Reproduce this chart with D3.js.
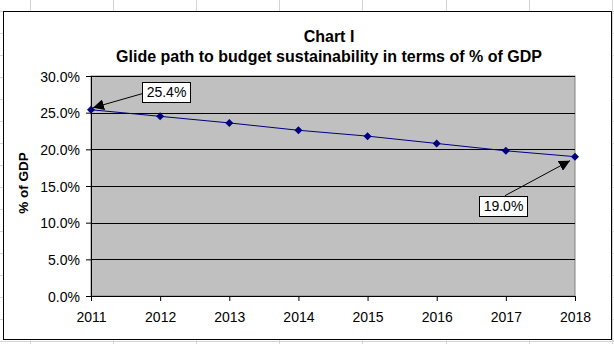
<!DOCTYPE html>
<html>
<head>
<meta charset="utf-8">
<script src="https://cdn.jsdelivr.net/npm/d3@7"></script>
<style>
    body { margin: 0; background: #fff; }
    svg { display: block; font-family: Arial, "Liberation Sans", sans-serif; }
</style>
</head>
<body>
<div id="chart"></div>
<script>
var years = [2011, 2012, 2013, 2014, 2015, 2016, 2017, 2018];
var deficit = [25.4, 24.5, 23.6, 22.6, 21.8, 20.8, 19.8, 19.0];
var yTicks = [0, 5, 10, 15, 20, 25, 30];
var titleLines = ['Chart I', 'Glide path to budget sustainability in terms of % of GDP'];
var yLabel = '% of GDP';
// which points get a callout box, with the box offset from the point
var callouts = [
    {index: 0, dx: 75, dy: -18},
    {index: 7, dx: -72, dy: 49}
];

//Basic setting
var w = 614, h = 344;
var margin = {top: 76, right: 39, bottom: 48, left: 91};
var innerW = w - margin.left - margin.right,
    innerH = h - margin.top - margin.bottom;

var root = d3.select('#chart').append('svg')
    .attr('width', w)
    .attr('height', h);

// spreadsheet cells behind the chart object
var sheet = root.append('g').attr('stroke', '#d4d4d4').attr('stroke-width', 1);
sheet.selectAll('line.col')
    .data(d3.range(29.5, w, 83.2)).enter()
    .append('line')
    .attr('x1', function(d) {return Math.round(d) + 0.5})
    .attr('x2', function(d) {return Math.round(d) + 0.5})
    .attr('y1', 0).attr('y2', h);
sheet.selectAll('line.row')
    .data(d3.range(11, h, 22)).enter()
    .append('line')
    .attr('y1', function(d) {return d + 0.5})
    .attr('y2', function(d) {return d + 0.5})
    .attr('x1', 0).attr('x2', w);

// chart object frame
root.append('rect')
    .attr('x', 3.5).attr('y', 11.5)
    .attr('width', 608).attr('height', 328)
    .attr('fill', '#fff')
    .attr('stroke', '#000')
    .attr('stroke-width', 1);

var svg = root.append('g')
    .attr('transform', 'translate(' + [margin.left, margin.top] + ')');

//Set x and y scales
var x = d3.scalePoint()
    .domain(years)
    .range([0, innerW]);
var y = d3.scaleLinear()
    .domain([0, 30])
    .range([innerH, 0]);

// plot area
svg.append('rect')
    .attr('x', 0).attr('y', 0)
    .attr('width', innerW).attr('height', innerH)
    .attr('fill', '#c0c0c0')
    .attr('stroke', '#808080');

// horizontal gridlines
svg.selectAll('line.grid')
    .data(yTicks).enter()
    .append('line')
    .attr('class', 'grid')
    .attr('x1', 0).attr('x2', innerW)
    .attr('y1', function(d) {return Math.round(y(d)) + 0.5})
    .attr('y2', function(d) {return Math.round(y(d)) + 0.5})
    .attr('stroke', '#000');

// axes
var yAxis = svg.append('g')
    .call(d3.axisLeft(y).tickValues(yTicks).tickSize(5).tickSizeOuter(0)
        .tickFormat(function(d) {return d3.format('.1f')(d) + '%'}));
var xAxis = svg.append('g')
    .attr('transform', 'translate(0,' + innerH + ')')
    .call(d3.axisBottom(x).tickSize(5).tickSizeOuter(0).tickFormat(d3.format('d')));

[yAxis, xAxis].forEach(function(a) {
    a.select('.domain').attr('stroke', '#000');
    a.selectAll('.tick line').attr('stroke', '#000');
    a.selectAll('.tick text')
        .attr('fill', '#000')
        .attr('font-size', '14px')
        .attr('font-family', 'Arial, "Liberation Sans", sans-serif');
});
yAxis.selectAll('.tick text').attr('x', -11).attr('dy', '0.36em');
xAxis.selectAll('.tick text').attr('y', 16);

//Draw the line and diamonds
var line = d3.line()
    .x(function(d, i) {return x(years[i])})
    .y(function(d) {return y(d)});

svg.append('path')
    .datum(deficit)
    .attr('d', line)
    .attr('fill', 'none')
    .attr('stroke', '#000080')
    .attr('stroke-width', 1);

svg.selectAll('path.marker')
    .data(deficit).enter()
    .append('path')
    .attr('class', 'marker')
    .attr('d', d3.symbol(d3.symbolSquare, 32))
    .attr('transform', function(d, i) {return 'translate(' + x(years[i]) + ',' + y(d) + ') rotate(45)'})
    .attr('fill', '#000080');

// callouts with arrows
root.append('defs').append('marker')
    .attr('id', 'head')
    .attr('viewBox', '0 0 10 10')
    .attr('refX', 10).attr('refY', 5)
    .attr('markerWidth', 11).attr('markerHeight', 11)
    .attr('markerUnits', 'userSpaceOnUse')
    .attr('orient', 'auto')
    .append('path')
    .attr('d', 'M0,0L10,5L0,10Z')
    .attr('fill', '#000');

var boxW = 48, boxH = 20;
var callout = svg.selectAll('g.callout')
    .data(callouts).enter()
    .append('g')
    .attr('class', 'callout');

callout.append('line')
    .attr('x1', function(d) {
        var bx = x(years[d.index]) + d.dx;
        return d.dx > 0 ? bx - boxW / 2 : bx + 2;
    })
    .attr('y1', function(d) {
        var by = y(deficit[d.index]) + d.dy;
        return d.dx > 0 ? by + 2 : by - boxH / 2;
    })
    .attr('x2', function(d) {return x(years[d.index]) + (d.dx > 0 ? 2 : -5)})
    .attr('y2', function(d) {return y(deficit[d.index]) + (d.dx > 0 ? -2 : 4)})
    .attr('stroke', '#000')
    .attr('stroke-width', 1)
    .attr('marker-end', 'url(#head)');

callout.append('rect')
    .attr('x', function(d) {return Math.round(x(years[d.index]) + d.dx - boxW / 2) + 0.5})
    .attr('y', function(d) {return Math.round(y(deficit[d.index]) + d.dy - boxH / 2) + 0.5})
    .attr('width', boxW).attr('height', boxH)
    .attr('fill', '#fff')
    .attr('stroke', '#000');

callout.append('text')
    .attr('x', function(d) {return x(years[d.index]) + d.dx + 0.5})
    .attr('y', function(d) {return y(deficit[d.index]) + d.dy + 5.5})
    .attr('text-anchor', 'middle')
    .attr('font-size', '14px')
    .text(function(d) {return d3.format('.1f')(deficit[d.index]) + '%'});

// titles
root.selectAll('text.title')
    .data(titleLines).enter()
    .append('text')
    .attr('class', 'title')
    .attr('x', 329)
    .attr('y', function(d, i) {return 42 + i * 20})
    .attr('text-anchor', 'middle')
    .attr('font-size', '16px')
    .attr('font-weight', 'bold')
    .text(function(d) {return d});

root.append('text')
    .attr('transform', 'translate(28,183) rotate(-90)')
    .attr('text-anchor', 'middle')
    .attr('font-size', '13.5px')
    .attr('font-weight', 'bold')
    .text(yLabel);
</script>
</body>
</html>
